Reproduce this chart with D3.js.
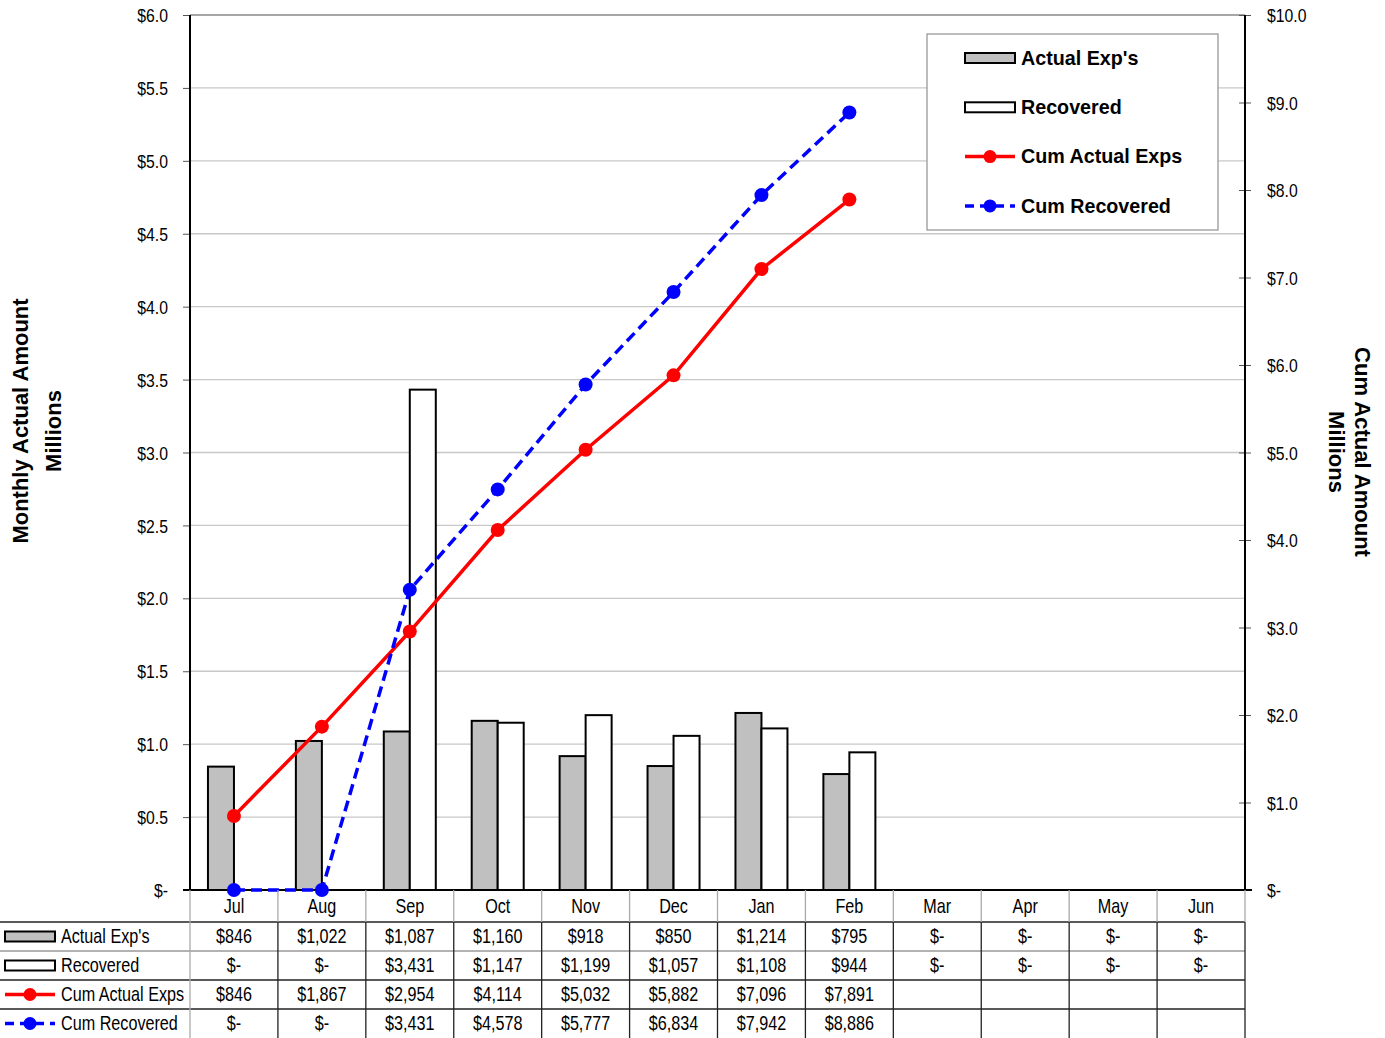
<!DOCTYPE html>
<html>
<head>
<meta charset="utf-8">
<script src="https://cdn.jsdelivr.net/npm/d3@7"></script>
<style>
  body { margin: 0; background: #fff; }
  svg { display: block; }
  text { font-family: "Liberation Sans", Arial, sans-serif; fill: #000; }
  .bold { font-weight: bold; }
</style>
</head>
<body>
<svg id="chart" width="1385" height="1038"></svg>
<script>
// months along the x axis
const months = ["Jul", "Aug", "Sep", "Oct", "Nov", "Dec", "Jan", "Feb", "Mar", "Apr", "May", "Jun"];
// monthly values, $ thousands
const actualExps = [846, 1022, 1087, 1160, 918, 850, 1214, 795, 0, 0, 0, 0];
const recovered = [0, 0, 3431, 1147, 1199, 1057, 1108, 944, 0, 0, 0, 0];
// cumulative values, $ thousands (only through Feb)
const cumActual = [846, 1867, 2954, 4114, 5032, 5882, 7096, 7891];
const cumRecovered = [0, 0, 3431, 4578, 5777, 6834, 7942, 8886];
// tick labels
const leftTicks = [0, 0.5, 1, 1.5, 2, 2.5, 3, 3.5, 4, 4.5, 5, 5.5, 6];
const rightTicks = [0, 1, 2, 3, 4, 5, 6, 7, 8, 9, 10];

const svg = d3.select("#chart");
const plot = { left: 190, right: 1245, top: 15, bottom: 890 };
const NARROW = 0.83; // no narrow font installed, squeeze a normal one

const x = d3.scaleBand().domain(months).range([plot.left, plot.right]);
const bw = x.bandwidth();
const x1 = d3.scaleBand().domain(["actual", "recovered"]).range([(bw - 52) / 2, (bw + 52) / 2]);
const yL = d3.scaleLinear().domain([0, 6]).range([plot.bottom, plot.top]);
const yR = d3.scaleLinear().domain([0, 10]).range([plot.bottom, plot.top]);

const money = v => v === 0 ? "$-" : "$" + d3.format(",")(v);
const axisFmt = d => d === 0 ? "$-" : "$" + d3.format(".1f")(d);

function narrowText(g, tx, ty, txt, size, anchor) {
  return g.append("text")
    .attr("transform", `translate(${tx},${ty}) scale(${NARROW},1)`)
    .attr("dy", "0.35em")
    .attr("text-anchor", anchor || "start")
    .attr("font-size", size)
    .text(txt);
}

// gridlines
svg.append("g")
  .selectAll("line")
  .data(leftTicks.slice(1))
  .join("line")
  .attr("x1", plot.left).attr("x2", plot.right)
  .attr("y1", d => yL(d)).attr("y2", d => yL(d))
  .attr("stroke", d => d === 6 ? "#888" : "#c8c8c8")
  .attr("stroke-width", 1.3);

// left axis
const axL = svg.append("g")
  .attr("transform", `translate(${plot.left},0)`)
  .call(d3.axisLeft(yL).tickValues(leftTicks).tickSize(7).tickFormat(axisFmt));
axL.select(".domain").remove();
axL.selectAll(".tick line").attr("stroke", "#555");
axL.selectAll(".tick text")
  .attr("x", null).attr("dy", "0.35em")
  .attr("transform", `translate(-22,0) scale(${NARROW},1)`)
  .attr("font-size", 19).attr("font-family", null);

// right axis
const axR = svg.append("g")
  .attr("transform", `translate(${plot.right},0)`)
  .call(d3.axisRight(yR).tickValues(rightTicks).tickSize(6).tickFormat(axisFmt));
axR.select(".domain").remove();
axR.selectAll(".tick line").attr("x1", -6).attr("stroke", "#555");
axR.selectAll(".tick text")
  .attr("x", null).attr("dy", "0.35em")
  .attr("transform", `translate(22,0) scale(${NARROW},1)`)
  .attr("font-size", 19).attr("font-family", null);

// bars
const bars = svg.append("g");
bars.selectAll("rect.act")
  .data(months.map((m, i) => ({ m, v: actualExps[i] })).filter(d => d.v > 0))
  .join("rect")
  .attr("x", d => x(d.m) + x1("actual"))
  .attr("width", x1.bandwidth())
  .attr("y", d => yL(d.v / 1000))
  .attr("height", d => plot.bottom - yL(d.v / 1000))
  .attr("fill", "#c0c0c0").attr("stroke", "#000").attr("stroke-width", 2);
bars.selectAll("rect.rec")
  .data(months.map((m, i) => ({ m, v: recovered[i] })).filter(d => d.v > 0))
  .join("rect")
  .attr("x", d => x(d.m) + x1("recovered"))
  .attr("width", x1.bandwidth())
  .attr("y", d => yL(d.v / 1000))
  .attr("height", d => plot.bottom - yL(d.v / 1000))
  .attr("fill", "#fff").attr("stroke", "#000").attr("stroke-width", 2);

// plot frame
svg.append("line").attr("x1", plot.left).attr("x2", plot.left).attr("y1", plot.top).attr("y2", plot.bottom).attr("stroke", "#000").attr("stroke-width", 2);
svg.append("line").attr("x1", plot.right).attr("x2", plot.right).attr("y1", plot.top).attr("y2", plot.bottom).attr("stroke", "#000").attr("stroke-width", 2);
svg.append("line").attr("x1", plot.left - 7).attr("x2", plot.right + 7).attr("y1", plot.bottom).attr("y2", plot.bottom).attr("stroke", "#000").attr("stroke-width", 2);

// cumulative lines
const cx = (d, i) => x(months[i]) + bw / 2;
const lineR = d3.line().x(cx).y(d => yR(d / 1000));
svg.append("path").datum(cumActual).attr("d", lineR)
  .attr("fill", "none").attr("stroke", "#ff0000").attr("stroke-width", 3.5);
svg.append("g").selectAll("circle").data(cumActual).join("circle")
  .attr("cx", cx).attr("cy", d => yR(d / 1000)).attr("r", 7).attr("fill", "#ff0000");
svg.append("path").datum(cumRecovered).attr("d", lineR)
  .attr("fill", "none").attr("stroke", "#0000ff").attr("stroke-width", 3.5).attr("stroke-dasharray", "11,6");
svg.append("g").selectAll("circle").data(cumRecovered).join("circle")
  .attr("cx", cx).attr("cy", d => yR(d / 1000)).attr("r", 7).attr("fill", "#0000ff");

// legend keys
function drawKey(g, type, x0, y0, w) {
  if (type === "actual" || type === "recovered") {
    g.append("rect").attr("x", x0).attr("y", y0 - 5).attr("width", w).attr("height", 10)
      .attr("fill", type === "actual" ? "#c0c0c0" : "#fff").attr("stroke", "#000").attr("stroke-width", 2);
  } else {
    const col = type === "cumActual" ? "#ff0000" : "#0000ff";
    g.append("line").attr("x1", x0).attr("x2", x0 + w).attr("y1", y0).attr("y2", y0)
      .attr("stroke", col).attr("stroke-width", 3.5)
      .attr("stroke-dasharray", type === "cumActual" ? null : "9,6");
    g.append("circle").attr("cx", x0 + w / 2).attr("cy", y0).attr("r", 6.5).attr("fill", col);
  }
}

const seriesNames = ["Actual Exp's", "Recovered", "Cum Actual Exps", "Cum Recovered"];
const seriesKeys = ["actual", "recovered", "cumActual", "cumRecovered"];

const legend = svg.append("g");
legend.append("rect").attr("x", 927).attr("y", 34).attr("width", 291).attr("height", 196)
  .attr("fill", "#fff").attr("stroke", "#999").attr("stroke-width", 1.3);
seriesNames.forEach((name, i) => {
  const ly = 58 + i * 49.3;
  drawKey(legend, seriesKeys[i], 965, ly, 50);
  legend.append("text").attr("class", "bold").attr("x", 1021).attr("y", ly).attr("dy", "0.35em")
    .attr("font-size", 19.7).text(name);
});

// axis titles
svg.append("text").attr("class", "bold").attr("font-size", 22).attr("text-anchor", "middle")
  .attr("transform", "translate(28,421) rotate(-90)").text("Monthly Actual Amount");
svg.append("text").attr("class", "bold").attr("font-size", 22).attr("text-anchor", "middle")
  .attr("transform", "translate(61,431) rotate(-90)").text("Millions");
svg.append("text").attr("class", "bold").attr("font-size", 22).attr("text-anchor", "middle")
  .attr("transform", "translate(1355,452) rotate(90)").text("Cum Actual Amount");
svg.append("text").attr("class", "bold").attr("font-size", 22).attr("text-anchor", "middle")
  .attr("transform", "translate(1329,452) rotate(90)").text("Millions");

// data table
const table = svg.append("g");
const rowTop = [890, 922, 951, 980, 1009, 1038];
// horizontal rules
rowTop.slice(1, 5).forEach((ry, i) => {
  table.append("line").attr("x1", 0).attr("x2", plot.right).attr("y1", ry).attr("y2", ry)
    .attr("stroke", i === 1 ? "#999" : "#222").attr("stroke-width", 1.3);
});
// vertical rules
months.forEach((m, i) => {
  const vx = x(m) + bw;
  table.append("line").attr("x1", vx).attr("x2", vx).attr("y1", 890).attr("y2", 922)
    .attr("stroke", "#aaa").attr("stroke-width", 1.3);
  table.append("line").attr("x1", vx).attr("x2", vx).attr("y1", 922).attr("y2", 1038)
    .attr("stroke", "#222").attr("stroke-width", 1.3);
});
table.append("line").attr("x1", plot.left).attr("x2", plot.left).attr("y1", 890).attr("y2", 1038)
  .attr("stroke", "#aaa").attr("stroke-width", 1.3);

months.forEach(m => narrowText(table, x(m) + bw / 2, 906, m, 19.5, "middle"));

const rows = [actualExps, recovered, cumActual, cumRecovered];
rows.forEach((vals, r) => {
  const ry = (rowTop[r + 1] + rowTop[r + 2]) / 2;
  drawKey(table, seriesKeys[r], 5, ry, 50);
  narrowText(table, 61, ry, seriesNames[r], 19.5, "start");
  vals.forEach((v, i) => narrowText(table, x(months[i]) + bw / 2, ry, money(v), 19.5, "middle"));
});
</script>
</body>
</html>
